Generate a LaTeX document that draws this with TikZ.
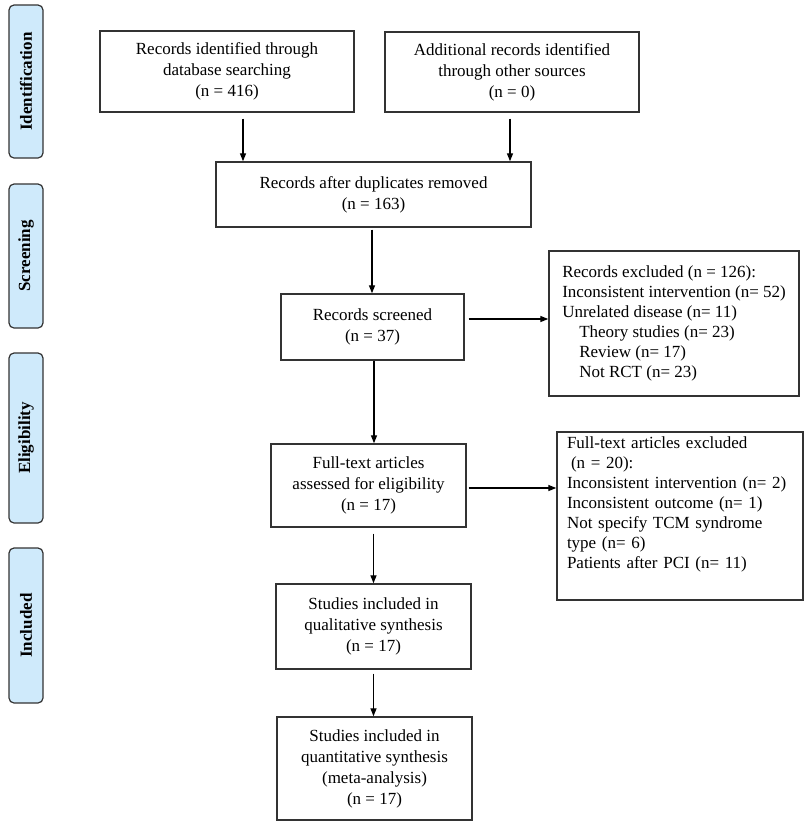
\documentclass[tikz,border=0pt]{standalone}
\usepackage{fontspec}
\setmainfont{Liberation Serif}
\usetikzlibrary{arrows.meta}
\definecolor{lblfill}{HTML}{CFEAFB}
\definecolor{edge}{HTML}{333333}
\begin{document}
\begin{tikzpicture}[x=1pt,y=-1pt,
  txt/.style={font=\fontsize{17}{21}\selectfont},
  box/.style={txt,draw=edge,line width=1.4pt,align=center,inner sep=0pt},
  sidebox/.style={txt,draw=edge,line width=1.4pt,align=left,inner sep=0pt,font=\fontsize{17}{20}\selectfont},
  phase/.style={draw=edge,fill=lblfill,line width=1.2pt,rounded corners=5pt,rotate=90,
    minimum height=34pt,inner sep=0pt,font=\fontsize{17}{20}\selectfont\bfseries},
  arr/.style={line width=1.3pt,-{Triangle[length=8pt,width=6pt]}}]
\useasboundingbox (0,0) rectangle (810,828);

% phase labels
\node[phase,minimum width=153pt] (p1) at (26,81.5) {Identification};
\node[phase,minimum width=144pt] (p2) at (26,256) {Screening};
\node[phase,minimum width=170pt] (p3) at (26,438) {Eligibility};
\node[phase,minimum width=155pt] (p4) at (26,625.5) {Included};

% main boxes
\node[box,minimum width=254pt,minimum height=81pt] (A) at (227,71.5)
  {Records identified through\\database searching\\(n = 416)};
\node[box,minimum width=254pt,minimum height=80pt] (B) at (512,72)
  {Additional records identified\\through other sources\\(n = 0)};
\node[box,minimum width=315pt,minimum height=65pt] (C) at (373.5,194.5)
  {Records after duplicates removed\\(n = 163)};
\node[box,minimum width=183pt,minimum height=66pt] (F) at (372.5,327)
  {Records screened\\(n = 37)};
\node[box,minimum width=195pt,minimum height=83pt] (FT) at (368.5,485.5)
  {Full-text articles\\assessed for eligibility\\(n = 17)};
\node[box,minimum width=195pt,minimum height=85pt] (G) at (373.5,626.5)
  {Studies included in\\qualitative synthesis\\(n = 17)};
\node[box,minimum width=195pt,minimum height=103pt] (H) at (374.5,768.5)
  {Studies included in\\quantitative synthesis\\(meta-analysis)\\(n = 17)};

% exclusion boxes
\node[sidebox,minimum width=250pt,minimum height=145pt] (D) at (674,323.5)
  {Records excluded (n = 126):\\
   Inconsistent intervention (n= 52)\\
   Unrelated disease (n= 11)\\
   \hspace*{17pt}Theory studies (n= 23)\\
   \hspace*{17pt}Review (n= 17)\\
   \hspace*{17pt}Not RCT (n= 23)};
\node[sidebox,text width=226pt,inner xsep=10pt,minimum height=168pt] (E) at (680,516)
  {Full-text articles excluded\\
   \hspace*{4pt}(n = 20):\\
   Inconsistent intervention (n= 2)\\
   Inconsistent outcome (n= 1)\\
   Not specify TCM syndrome\\
   type (n= 6)\\
   Patients after PCI (n= 11)\\[6pt]\mbox{}};

% connectors
\draw[arr,shorten <=6pt] ([xshift=16pt]A.south) -- ([xshift=16pt]A.south |- C.north);
\draw[arr,shorten <=6pt] ([xshift=-2pt]B.south) -- ([xshift=-2pt]B.south |- C.north);
\draw[arr,shorten <=2pt] ([xshift=-1.5pt]C.south) -- ([xshift=-1.5pt]C.south |- F.north);
\draw[arr] ([xshift=1.5pt]F.south) -- ([xshift=1.5pt]F.south |- FT.north);
\draw[arr,shorten <=6pt] (G.north |- FT.south) -- (G.north);
\draw[arr,shorten <=4pt] (G.south) -- (G.south |- H.north);
\draw[arr] ([xshift=4pt,yshift=8pt]F.east) -- ([yshift=8pt]F.east -| D.west);
\draw[arr] ([xshift=2pt,yshift=-2.5pt]FT.east) -- ([yshift=-2.5pt]FT.east -| E.west);
\end{tikzpicture}
\end{document}
